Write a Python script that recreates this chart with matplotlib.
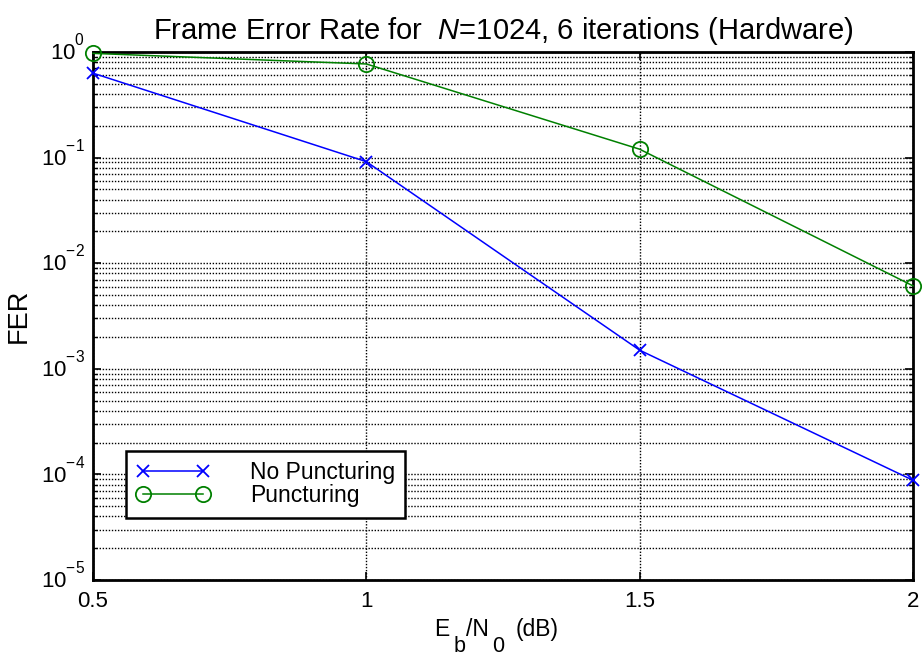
import matplotlib
matplotlib.use('Agg')
import matplotlib.pyplot as plt
from matplotlib.ticker import NullFormatter, FixedLocator, FixedFormatter, FuncFormatter
from matplotlib.transforms import ScaledTranslation
import numpy as np

plt.rcParams['font.family'] = ['Liberation Sans', 'DejaVu Sans']
plt.rcParams['mathtext.fontset'] = 'custom'
plt.rcParams['mathtext.rm'] = 'Liberation Sans'
plt.rcParams['mathtext.it'] = 'Liberation Sans:italic'
plt.rcParams['mathtext.default'] = 'regular'

# raise superscripts a bit more, like the old matlab tick labels
try:
    import matplotlib._mathtext as _mt
    _mt.FontConstantsBase.sup1 = 1.2
except Exception:
    pass

# Eb/N0 values (dB)
ebn0 = [0.5, 1.0, 1.5, 2.0]
# frame error rates
fer_no_punct = [0.63, 0.0915, 1.5e-3, 8.8e-5]
fer_punct = [0.97, 0.77, 0.12, 6.1e-3]
x_ticks = [0.5, 1, 1.5, 2]
x_labels = ['0.5', '1', '1.5', '2']
y_decades = [-5, -4, -3, -2, -1, 0]

fig = plt.figure(figsize=(9.23, 6.58), dpi=100)
ax = fig.add_axes([0.1008, 0.1185, 0.8884, 0.8025])

ax.semilogy(ebn0, fer_no_punct, color='#0000ff', marker='x', markersize=8,
            markeredgewidth=1.3, linewidth=1.1, label='No Puncturing', clip_on=False, zorder=3)
ax.semilogy(ebn0, fer_punct, color='#008000', marker='o', markersize=11,
            markerfacecolor='none', markeredgewidth=1.3, linewidth=1.1,
            label='Puncturing', clip_on=False, zorder=3)

ax.set_xlim(0.5, 2)
ax.set_ylim(1e-5, 1)
ax.xaxis.set_major_locator(FixedLocator(x_ticks))
ax.xaxis.set_major_formatter(FixedFormatter(x_labels))
ax.yaxis.set_major_locator(FixedLocator([10.0 ** d for d in y_decades]))
ax.yaxis.set_major_formatter(FuncFormatter(lambda v, pos: '$10^{%d}$' % int(round(np.log10(v)))))
minor = [m * 10.0 ** d for d in y_decades[:-1] for m in range(2, 10)]
ax.yaxis.set_minor_locator(FixedLocator(minor))
ax.yaxis.set_minor_formatter(NullFormatter())

dots = (0, (1, 1.2))
ax.grid(True, which='major', axis='both', color='black', linestyle=dots, linewidth=1.0)
ax.grid(True, which='minor', axis='y', color='black', linestyle=dots, linewidth=1.0)

for sp in ax.spines.values():
    sp.set_linewidth(2.0)
ax.tick_params(which='both', direction='in', top=True, right=True, labelsize=16)
ax.tick_params(axis='x', pad=8)
ax.tick_params(axis='y', pad=6)
ax.tick_params(which='major', length=6, width=1.2)
ax.tick_params(which='minor', length=3, width=1.0)

# put the "10" of each y label centred on its tick, exponent above
down = ScaledTranslation(0, -5.6 / 72, fig.dpi_scale_trans)
for tk in ax.yaxis.get_major_ticks():
    tk.label1.set_verticalalignment('baseline')
    tk.label1.set_transform(tk.label1.get_transform() + down)

ax.set_title('Frame Error Rate for  $\\mathit{N}$=1024, 6 iterations (Hardware)', fontsize=21, pad=9)
ax.set_ylabel('FER', fontsize=19.5, labelpad=6)

# x label with full size subscripts, built piece by piece
t = ax.text(0.4155, -0.1055, 'E', transform=ax.transAxes, fontsize=16.5, va='baseline', ha='left')
pieces = [('b', 5, -16, 15.5), ('/N', 0, 16, 16.5), ('0', 3, -16, 15.5), ('(dB)', 12, 16, 16.5)]
for txt, dx, dy, fs in pieces:
    t = ax.annotate(txt, xy=(1, 0), xycoords=t, xytext=(dx, dy), textcoords='offset pixels',
                    fontsize=fs, va='bottom', ha='left', annotation_clip=False)

leg = ax.legend(loc='upper left', bbox_to_anchor=(0.0402, 0.2443), borderaxespad=0,
                numpoints=2, handlelength=3.2, handletextpad=1.75, fontsize=16.5,
                fancybox=False, framealpha=1, edgecolor='black', labelspacing=0.0,
                borderpad=0.45)
leg.get_frame().set_linewidth(1.8)

fig.savefig('out.png', dpi=100)
